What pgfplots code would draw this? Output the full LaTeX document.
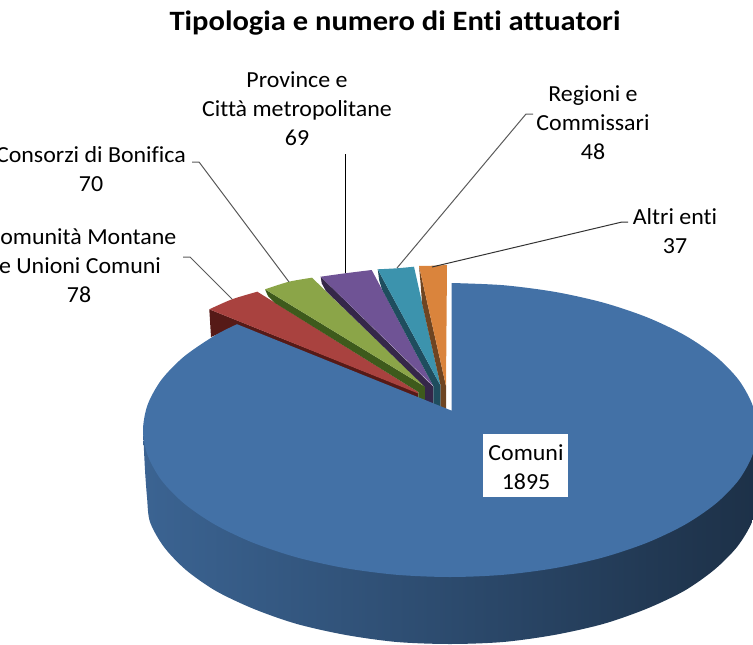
\documentclass[border=0pt]{standalone}
\usepackage{pgfplots}
\pgfplotsset{compat=1.18}
\usepackage{fontspec}
\setmainfont[Ligatures=NoCommon]{Carlito}
\definecolor{bluetop}{HTML}{4371A6}
\definecolor{redtop}{HTML}{A9423F}
\definecolor{reddk}{HTML}{561A17}
\definecolor{greentop}{HTML}{8BA548}
\definecolor{greendk}{HTML}{3E5A1C}
\definecolor{purpletop}{HTML}{6F5395}
\definecolor{purpledk}{HTML}{352749}
\definecolor{tealtop}{HTML}{3C93AD}
\definecolor{tealdk}{HTML}{1F4D5E}
\definecolor{orangetop}{HTML}{DA843C}
\definecolor{orangedk}{HTML}{6E4522}
\definecolor{leader}{HTML}{5A5A5A}
\pgfdeclarehorizontalshading{wall}{100bp}{
  color(0bp)=(bluetop!98!black);
  color(25bp)=(bluetop!88!black);
  color(50bp)=(bluetop!66!black);
  color(70bp)=(bluetop!47!black);
  color(78bp)=(bluetop!41!black);
  color(100bp)=(bluetop!39!black)}
\newcommand{\lbl}[3]{\node[font=\fontsize{23}{26}\selectfont,anchor=center,inner sep=0pt,xscale=1.04] at (axis cs:#1,#2) {\strut #3};}
\begin{document}
\begin{tikzpicture}
\useasboundingbox (0,0) rectangle (753pt,645pt);
\clip (0,0) rectangle (753pt,645pt);
\begin{axis}[at={(0,0)},anchor=south west,scale only axis,width=753pt,height=645pt,
  xmin=0,xmax=753,ymin=0,ymax=645,y dir=reverse,hide axis,clip=false]
% side wall
\addplot[draw=none,shading=wall,smooth] coordinates {
 (143,430)(145,470)(147,497)(150,522)(164,547)(186,570)(216,591)(254,609)(297,624)(346,635)(397,642)(450,644)(503,642)(554,635)(603,624)(646,609)(684,591)(714,570)(737,547)(752,522)(757,497)(757,430)} -- cycle;
% small slices: dark sides, then tops
\addplot[draw=none,fill=reddk] coordinates {(209.3,309.3)(211,337)(237,326)(418.3,399)(418.3,393)} -- cycle;
\addplot[draw=none,fill=redtop,smooth] coordinates {(209.3,309.3)(232,299.3)(257.3,291.7)} -- (axis cs:418.3,392) -- (axis cs:418.3,393.5) -- cycle;
\addplot[draw=none,fill=greendk] coordinates {(265,289.3)(268,296)(275,303)(418.3,392)(418.3,399)(425,401)(425,386.7)} -- cycle;
\addplot[draw=none,fill=greentop,smooth] coordinates {(265,289.3)(289,281.7)(312,277.7)} -- (axis cs:425,386.7) -- cycle;
\addplot[draw=none,fill=purpledk] coordinates {(320.7,276.7)(321.7,283.3)(326,291)(425,387)(425,401)(433.3,404)(433.3,386.7)} -- cycle;
\addplot[draw=none,fill=purpletop,smooth] coordinates {(320.7,276.7)(345,273.3)(371.7,270)} -- (axis cs:433.3,386) -- cycle;
\addplot[draw=none,fill=tealdk] coordinates {(377.7,269.3)(379.3,280.7)(382,289.5)(433.3,386)(433.3,404)(440.7,407)(440.7,386)} -- cycle;
\addplot[draw=none,fill=tealtop,smooth] coordinates {(377.7,269.3)(396.7,268.3)(414,266.7)} -- (axis cs:440.7,386) -- cycle;
\addplot[draw=none,fill=orangedk] coordinates {(419,266)(420.7,285)(422,303)(440.7,386)(440.7,407)(446,409.5)(446,386)} -- cycle;
\addplot[draw=none,fill=orangetop,smooth] coordinates {(419,266)(433.3,265.7)(447,265)} -- (axis cs:446,386) -- cycle;
% Comuni top face
\addplot[draw=none,fill=bluetop,smooth] coordinates {
 (451.7,283)(503.3,285.2)(555,291.9)(603.5,302.7)(647.3,317.4)(685.2,335.5)(715.9,356.5)(738.5,379.7)(752.3,404.5)(757,430)(752.3,455.5)(738.5,480.3)(715.9,503.5)(685.2,524.5)(647.3,542.6)(603.5,557.3)(555,568.1)(503.3,574.8)(450,577)(396.7,574.8)(345,568.1)(296.5,557.3)(252.7,542.6)(214.8,524.5)(184.1,503.5)(161.5,480.3)(147.7,455.5)(143,430)(147.7,404.5)(161.5,379.7)(184.1,356.5)(214.8,335.5)(237,324.2)} -- (axis cs:451.7,410.7) -- cycle;
% leader lines
\addplot[leader,line width=1pt] coordinates {(183,257)(190,257)(232,299)};
\addplot[leader,line width=1pt] coordinates {(192,162)(199,162)(289,282)};
\addplot[black,line width=0.9pt] coordinates {(345,154)(345,273)};
\addplot[leader,line width=1pt] coordinates {(533,114)(526,114)(397,268)};
\addplot[black!80,line width=1pt] coordinates {(628,222)(622,222)(432,267)};
% white label box
\addplot[draw=none,fill=white] coordinates {(483,434)(568,434)(568,497)(483,497)} -- cycle;
% texts
\node[font=\fontsize{28}{30}\selectfont\bfseries,inner sep=0pt,xscale=1.09] at (axis cs:395,23) {Tipologia e numero di Enti attuatori};
\lbl{297}{82}{Province e}\lbl{297}{111}{Città metropolitane}\lbl{297}{140}{69}
\lbl{593}{96}{Regioni e}\lbl{593}{125}{Commissari}\lbl{593}{154}{48}
\lbl{675}{219}{Altri enti}\lbl{675}{248}{37}
\lbl{91}{157}{Consorzi di Bonifica}\lbl{91}{186}{70}
\lbl{82}{239}{Comunità Montane}\lbl{80}{268}{e Unioni Comuni}\lbl{79}{297}{78}
\lbl{526}{455}{Comuni}\lbl{526}{484}{1895}
\end{axis}
\end{tikzpicture}
\end{document}
